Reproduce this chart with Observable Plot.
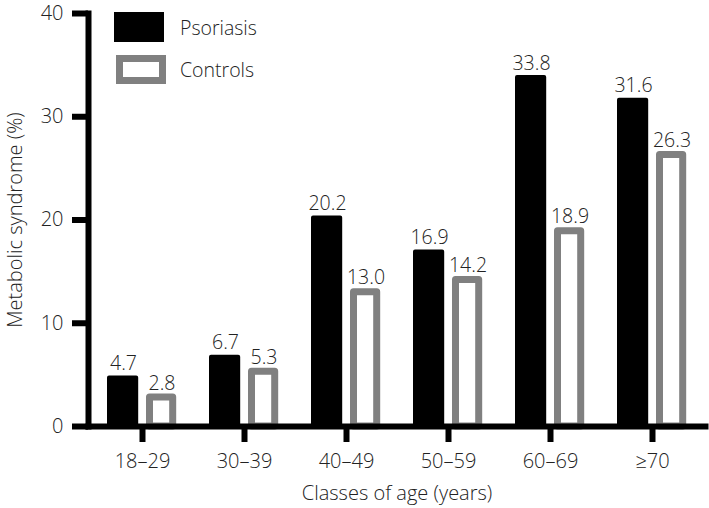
<!DOCTYPE html>
<html>
<head>
<meta charset="utf-8">
<script src="https://cdn.jsdelivr.net/npm/d3@7"></script>
<script src="https://cdn.jsdelivr.net/npm/@observablehq/plot@0.6"></script>
<style>
  body { margin: 0; background: #fff; font-family: "Open Sans", sans-serif; }
  #wrap { position: relative; width: 709px; height: 508px; }
  .legend { position: absolute; left: 114px; top: 12px; font-size: 19.5px; color: #222; font-weight: 300; }
  .item { display: flex; align-items: center; height: 30px; margin-bottom: 12px; }
  .sw { width: 50px; height: 30px; box-sizing: border-box; margin-right: 16px; }
  .sw.p { background: #000; }
  .sw.c { background: #fff; border: 7px solid #808080; width: 50px; height: 29px; margin-left: 2px; margin-right: 14px; }
  svg text { font-weight: 300; }
</style>
</head>
<body>
<div id="wrap"></div>
<script>
const categories = ["18–29", "30–39", "40–49", "50–59", "60–69", "≥70"];
const psoriasis = [4.7, 6.7, 20.2, 16.9, 33.8, 31.6];
const controls = [2.8, 5.3, 13.0, 14.2, 18.9, 26.3];
const yTicks = [0, 10, 20, 30, 40];
const seriesNames = ["Psoriasis", "Controls"];

const rows = categories.map((c, i) => ({category: c, psoriasis: psoriasis[i], controls: controls[i]}));
const textColor = "#222";

const chart = Plot.plot({
  width: 709,
  height: 508,
  marginLeft: 88,
  marginRight: 4,
  marginTop: 13,
  marginBottom: 82,
  style: {fontFamily: '"Open Sans", sans-serif', fontSize: "20px", color: "#000", background: "#fff"},
  x: {domain: categories, padding: 0, axis: null},
  y: {domain: [0, 40], axis: null},
  marks: [
    Plot.barY(rows, {x: "category", y: "psoriasis", fill: "#000", stroke: "#000", strokeWidth: 4, strokeLinejoin: "round", insetLeft: 18, insetRight: 56.8}),
    Plot.barY(rows, {x: "category", y: "controls", fill: "#fff", stroke: "#808080", strokeWidth: 7, strokeLinejoin: "round", insetLeft: 58.5, insetRight: 20.3}),
    Plot.text(rows, {x: "category", y: "psoriasis", text: d => d.psoriasis.toFixed(1), dx: -19, dy: -8, lineAnchor: "bottom", fontSize: 19.5, fill: textColor}),
    Plot.text(rows, {x: "category", y: "controls", text: d => d.controls.toFixed(1), dx: 19.5, dy: -8, lineAnchor: "bottom", fontSize: 19.5, fill: textColor}),
    Plot.frame({anchor: "left", stroke: "#000", strokeWidth: 6}),
    Plot.frame({anchor: "bottom", stroke: "#000", strokeWidth: 6}),
    Plot.axisY({ticks: yTicks, tickFormat: d => String(d), tickSize: 16, tickPadding: 9, strokeWidth: 6, stroke: "#000", fill: textColor, fontSize: 20,
      label: "Metabolic syndrome (%)", labelAnchor: "center", labelOffset: 81, labelArrow: "none"}),
    Plot.axisX({tickSize: 16, tickPadding: 11, strokeWidth: 6, stroke: "#000", fill: textColor, fontSize: 20,
      label: "Classes of age (years)", labelAnchor: "center", labelOffset: 73, labelArrow: "none"})
  ]
});

const wrap = document.getElementById("wrap");
wrap.appendChild(chart);

const legend = document.createElement("div");
legend.className = "legend";
seriesNames.forEach((name, i) => {
  const item = document.createElement("div");
  item.className = "item";
  const sw = document.createElement("div");
  sw.className = "sw " + (i === 0 ? "p" : "c");
  const label = document.createElement("span");
  label.textContent = name;
  item.appendChild(sw);
  item.appendChild(label);
  legend.appendChild(item);
});
wrap.appendChild(legend);
</script>
</body>
</html>
